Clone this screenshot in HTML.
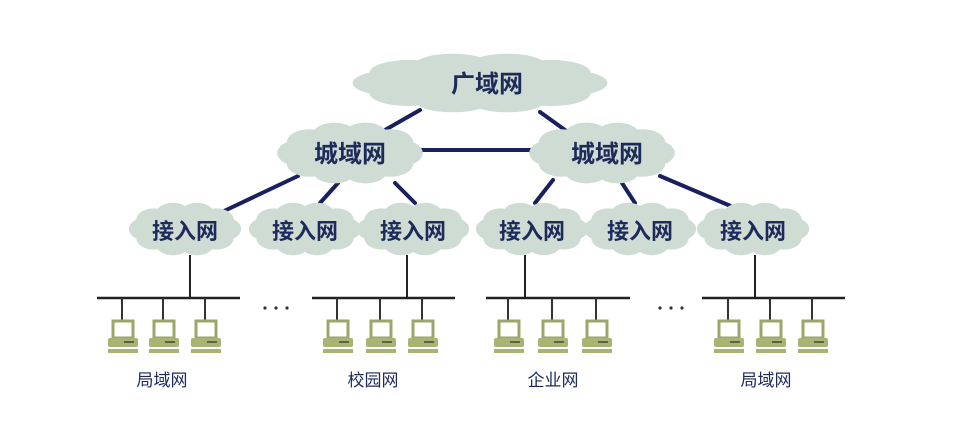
<!DOCTYPE html>
<html><head><meta charset="utf-8"><style>
html,body{margin:0;padding:0;background:#fff;}
svg{display:block}
text{font-family:"Liberation Sans","Noto Sans CJK SC",sans-serif;fill:#1e2a5a}
</style></head><body>
<svg id="s" width="963" height="425" viewBox="0 0 963 425" xmlns="http://www.w3.org/2000/svg">
<g stroke="#1a1f5e" stroke-width="4" stroke-linecap="round">
<line x1="420" y1="110" x2="385" y2="130"/>
<line x1="540" y1="112" x2="565" y2="130"/>
<line x1="415" y1="150" x2="540" y2="150"/>
<line x1="298" y1="176" x2="222" y2="212"/>
<line x1="338" y1="183" x2="320" y2="203"/>
<line x1="395" y1="183" x2="415" y2="203"/>
<line x1="553" y1="180" x2="535" y2="203"/>
<line x1="622" y1="183" x2="635" y2="203"/>
<line x1="660" y1="176" x2="740" y2="210"/>
</g>
<g id="clouds"></g>
<g id="lans"></g>
<g font-size="24" text-anchor="middle" font-weight="bold">
<text x="487" y="92">广域网</text>
<text x="350" y="162">城域网</text>
<text x="607" y="162">城域网</text>
</g>
<g font-size="22" text-anchor="middle" font-weight="bold">
<text x="185" y="239">接入网</text>
<text x="305" y="239">接入网</text>
<text x="413" y="239">接入网</text>
<text x="532" y="239">接入网</text>
<text x="640" y="239">接入网</text>
<text x="753" y="239">接入网</text>
</g>
<g font-size="17" text-anchor="middle" style="fill:#3a4a7a">
<text x="162" y="386">局域网</text>
<text x="373" y="386">校园网</text>
<text x="553" y="386">企业网</text>
<text x="766" y="386">局域网</text>
</g>
<g fill="#333"><circle cx="265" cy="308" r="1.6"/><circle cx="276" cy="308" r="1.6"/><circle cx="287" cy="308" r="1.6"/>
<circle cx="660" cy="308" r="1.6"/><circle cx="671" cy="308" r="1.6"/><circle cx="682" cy="308" r="1.6"/></g>
</svg>
<script>
var NS="http://www.w3.org/2000/svg";
function el(p,t,a){var e=document.createElementNS(NS,t);for(var k in a)e.setAttribute(k,a[k]);p.appendChild(e);return e;}
var C=document.getElementById('clouds');
function cloud(cx,cy,w,h){
 var g=el(C,'g',{fill:'#cfdcd4'});
 el(g,'ellipse',{cx:cx,cy:cy,rx:w/2*0.92,ry:h/2*0.7});
 var n=10;
 for(var i=0;i<n;i++){var a=i/n*Math.PI*2;
  el(g,'ellipse',{cx:cx+Math.cos(a)*w*0.36,cy:cy+Math.sin(a)*h*0.3,rx:w*0.16,ry:h*0.22});}
}
cloud(480,83,245,58);
cloud(350,153,140,60);
cloud(602,153,140,60);
[185,305,413,532,640,753].forEach(function(x){cloud(x,229,108,52);});
var L=document.getElementById('lans');
function lan(x1,x2,up,pcs){
 el(L,'line',{x1:up,y1:255,x2:up,y2:298,stroke:'#222','stroke-width':2});
 el(L,'line',{x1:x1,y1:298,x2:x2,y2:298,stroke:'#222','stroke-width':2.5});
 pcs.forEach(function(x){
  el(L,'line',{x1:x,y1:298,x2:x,y2:322,stroke:'#333','stroke-width':2});
  el(L,'rect',{x:x-9,y:321,width:20,height:17,fill:'#fff',stroke:'#9aa66a','stroke-width':3});
  el(L,'rect',{x:x-14,y:338,width:30,height:9,fill:'#a9b474',rx:2});
  el(L,'line',{x1:x+2,y1:342,x2:x+12,y2:342,stroke:'#444','stroke-width':1.5});
  el(L,'rect',{x:x-14,y:349,width:30,height:4,fill:'#a9b474'});
 });
}
lan(97,240,190,[122,163,205]);
lan(312,455,407,[337,380,422]);
lan(486,630,525,[508,552,596]);
lan(702,845,755,[728,770,812]);
</script>
</body></html>
